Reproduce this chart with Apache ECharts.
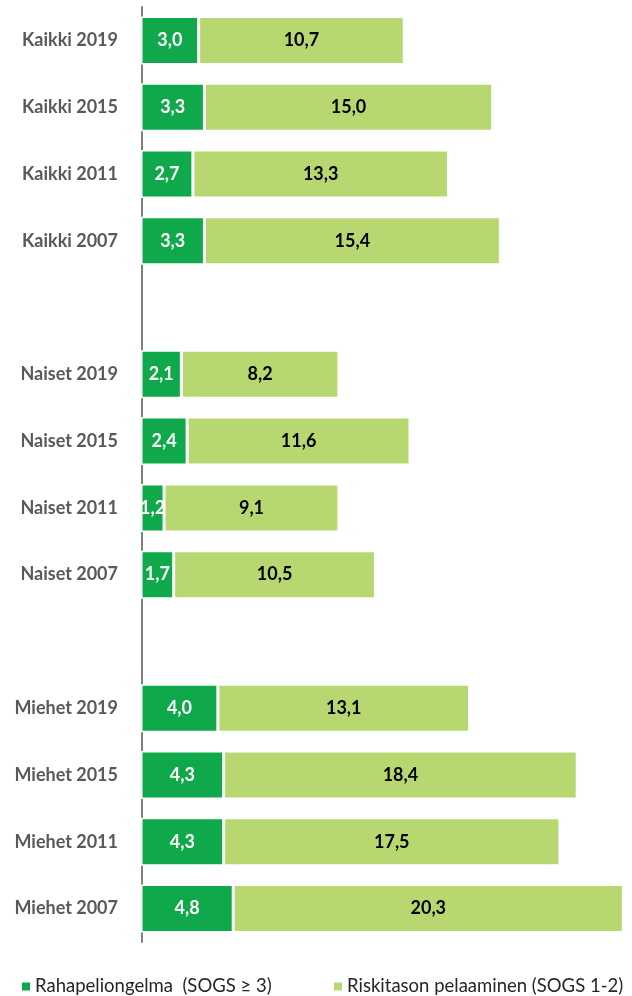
<!DOCTYPE html>
<html>
<head>
<meta charset="utf-8">
<script src="https://cdn.jsdelivr.net/npm/echarts@6/dist/echarts.min.js"></script>
<style>
  html, body { margin: 0; padding: 0; background: #fff; }
  #chart { width: 632px; height: 996px; }
</style>
</head>
<body>
<div id="chart"></div>
<script>
// categories, top to bottom ('' / ' ' are the empty gaps between groups)
var categories = [
  'Kaikki 2019', 'Kaikki 2015', 'Kaikki 2011', 'Kaikki 2007', '',
  'Naiset 2019', 'Naiset 2015', 'Naiset 2011', 'Naiset 2007', ' ',
  'Miehet 2019', 'Miehet 2015', 'Miehet 2011', 'Miehet 2007'
]
var ongelma = [3.0, 3.3, 2.7, 3.3, '-', 2.1, 2.4, 1.2, 1.7, '-', 4.0, 4.3, 4.3, 4.8]
var riski = [10.7, 15.0, 13.3, 15.4, '-', 8.2, 11.6, 9.1, 10.5, '-', 13.1, 18.4, 17.5, 20.3]
var seriesNames = ['Rahapeliongelma  (SOGS \u2265 3)', 'Riskitason pelaaminen (SOGS 1-2)']

var fmt = function (p) {
    return p.value.toFixed(1).replace('.', ',')
}

// one legend per item so both stay on one row
var legendBase = {
    top: 972,
    icon: 'rect',
    itemWidth: 8,
    itemHeight: 8,
    itemStyle: { borderWidth: 0 },
    textStyle: { fontSize: 18.5, color: '#262626', fontFamily: 'Lato' }
}

var chart = echarts.init(document.getElementById('chart'))
chart.setOption({
    animation: false,
    textStyle: { fontFamily: 'Lato' },
    grid: {
        left: 141,
        right: 1,
        top: 7,
        bottom: 54
    },
    legend: [
        Object.assign({}, legendBase, { left: 17, data: [seriesNames[0]] }),
        Object.assign({}, legendBase, { left: 329, data: [seriesNames[1]] })
    ],
    xAxis: {
        type: 'value',
        min: 0,
        max: 25.5,
        show: false
    },
    yAxis: {
        type: 'category',
        inverse: true,
        offset: -1,
        data: categories,
        axisLine: { lineStyle: { color: '#7f7f7f', width: 2 } },
        axisTick: { show: false },
        axisLabel: {
            margin: 24,
            fontSize: 18,
            fontWeight: 'bold',
            color: '#595959',
            fontFamily: 'Lato'
        }
    },
    series: [{
        name: seriesNames[0],
        type: 'bar',
        stack: 'all',
        barWidth: 48,
        data: ongelma,
        itemStyle: { color: '#0fa84a', borderColor: '#fff', borderWidth: 1.5 },
        label: {
            show: true,
            position: 'inside',
            color: '#fff',
            fontSize: 18,
            fontWeight: 'bold',
            fontFamily: 'Lato',
            formatter: fmt
        }
    }, {
        name: seriesNames[1],
        type: 'bar',
        stack: 'all',
        barWidth: 48,
        data: riski,
        itemStyle: { color: '#b7d870', borderColor: '#fff', borderWidth: 1.5 },
        label: {
            show: true,
            position: 'inside',
            color: '#000',
            fontSize: 18,
            fontWeight: 'bold',
            fontFamily: 'Lato',
            formatter: fmt
        }
    }]
})
</script>
</body>
</html>
